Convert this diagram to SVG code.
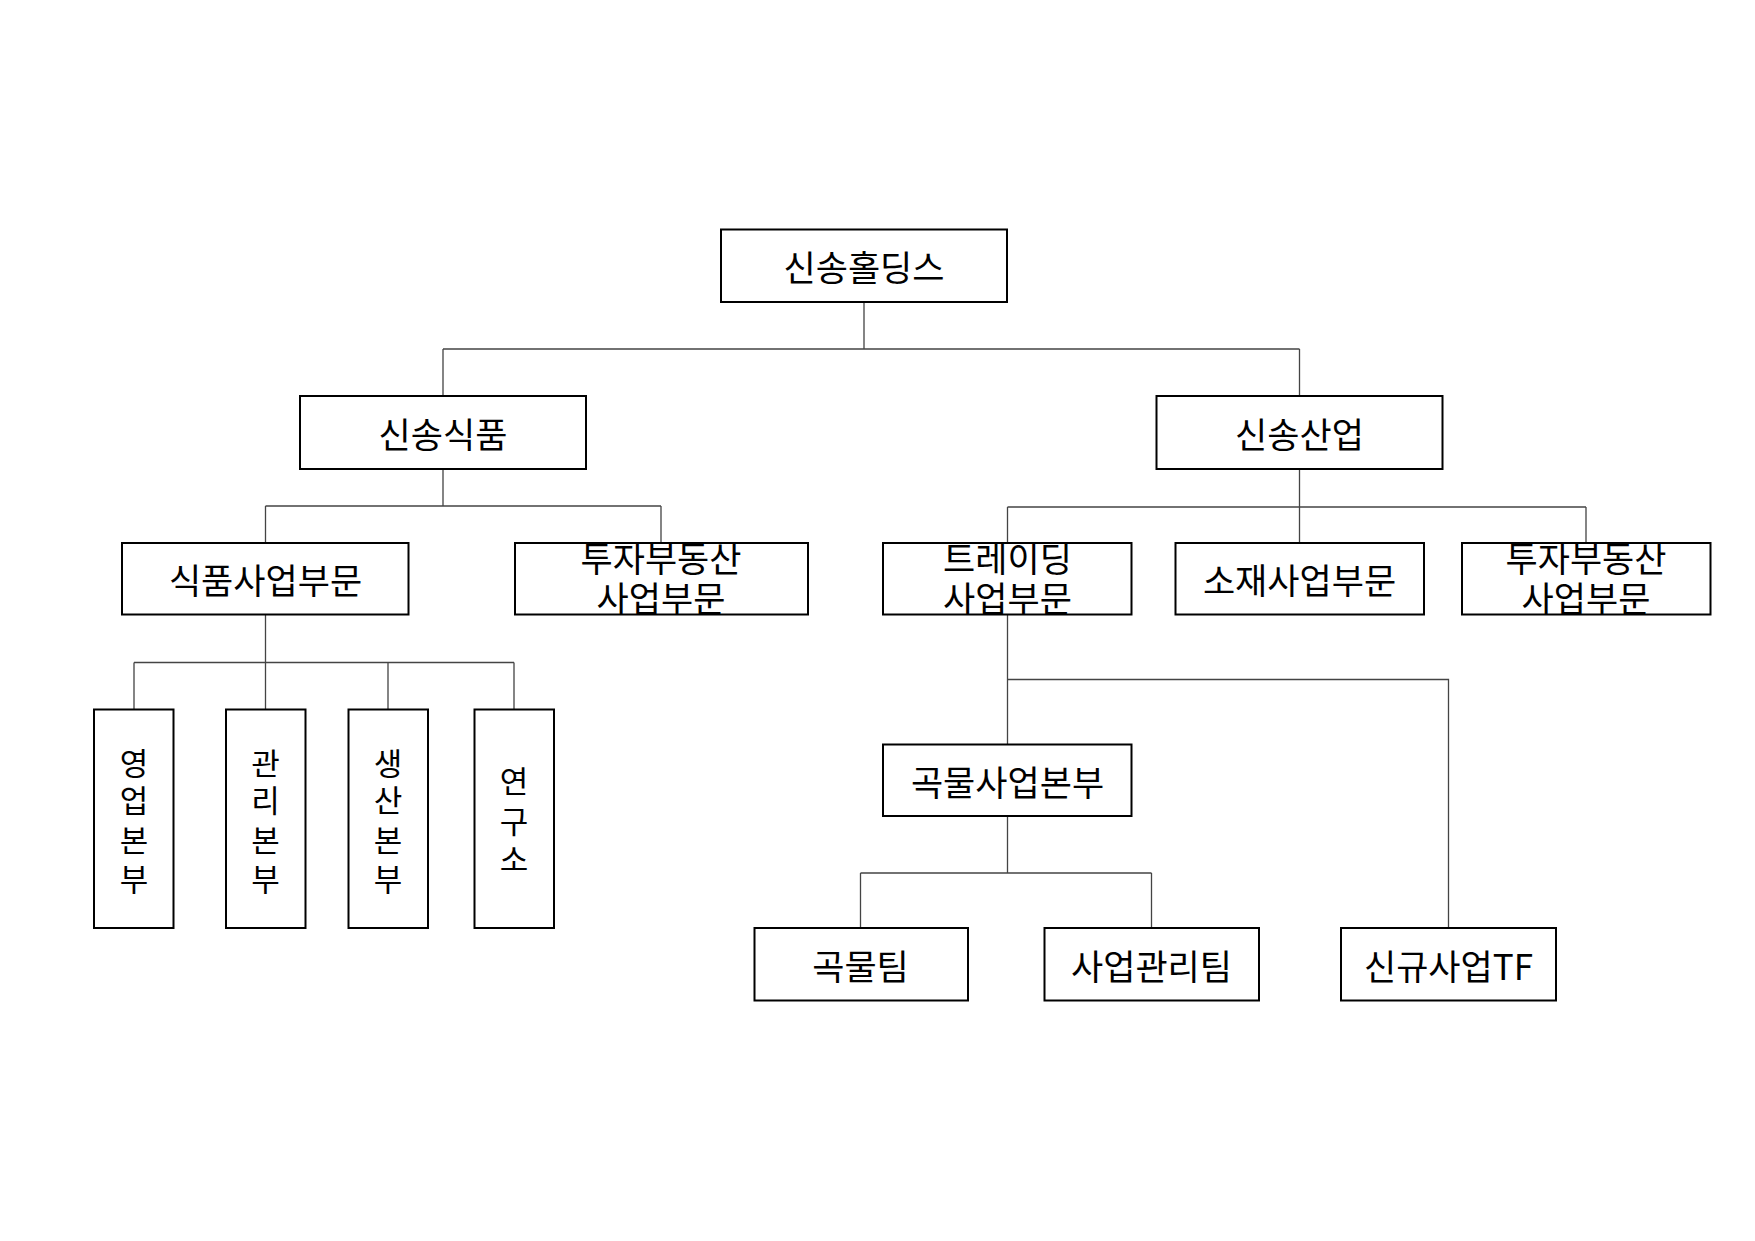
<svg xmlns="http://www.w3.org/2000/svg" width="1755" height="1241" viewBox="0 0 1755 1241">
<style>
.box{fill:#fff;stroke:#000;stroke-width:2}
.t{font-family:"Noto Sans CJK KR","Noto Sans",sans-serif;font-size:35px;fill:#000;text-anchor:middle;dominant-baseline:central}
.v{font-size:31px}
.c{fill:none;stroke:#444;stroke-width:1.3}
</style>
<rect width="1755" height="1241" fill="#fff"/>
<g id="connectors">
<path class="c" d="M864 302V349M443 349H1299.5M443 349V396M1299.5 349V396"/>
<path class="c" d="M443 469V506M265.5 506H661M265.5 506V543M661 506V543"/>
<path class="c" d="M1299.5 469V543M1007.5 507H1586M1007.5 507V543M1586 507V543"/>
<path class="c" d="M265.5 614.5V709.5M134 662.5H514M134 662.5V709.5M388 662.5V709.5M514 662.5V709.5"/>
<path class="c" d="M1007.5 614.5V744.5M1007.5 679.5H1448.5V928"/>
<path class="c" d="M1007.5 816V873M860.5 873H1151.5M860.5 873V928M1151.5 873V928"/>
</g>
<g id="n-holdings"><rect class="box" x="721" y="229.5" width="286" height="72.5"/><text class="t" x="864" y="265">신송홀딩스</text></g>
<g id="n-food"><rect class="box" x="300" y="396" width="286" height="73"/><text class="t" x="443" y="432">신송식품</text></g>
<g id="n-industry"><rect class="box" x="1156.5" y="396" width="286" height="73"/><text class="t" x="1299.5" y="432">신송산업</text></g>
<g id="n-foodbiz"><rect class="box" x="122" y="543" width="286.5" height="71.5"/><text class="t" x="265.5" y="578">식품사업부문</text></g>
<g id="n-invest1"><rect class="box" x="515" y="543" width="293" height="71.5"/><text class="t"><tspan x="661" y="556">투자부동산</tspan><tspan x="661" y="596">사업부문</tspan></text></g>
<g id="n-trading"><rect class="box" x="883" y="543" width="248.5" height="71.5"/><text class="t"><tspan x="1007.5" y="556">트레이딩</tspan><tspan x="1007.5" y="596">사업부문</tspan></text></g>
<g id="n-material"><rect class="box" x="1175.5" y="543" width="248.5" height="71.5"/><text class="t" x="1299.5" y="578">소재사업부문</text></g>
<g id="n-invest2"><rect class="box" x="1462" y="543" width="248.5" height="71.5"/><text class="t"><tspan x="1586" y="556">투자부동산</tspan><tspan x="1586" y="596">사업부문</tspan></text></g>
<g id="n-sales"><rect class="box" x="94" y="709.5" width="79.5" height="218.5"/><text class="t v"><tspan x="134" y="761">영</tspan><tspan x="134" y="798">업</tspan><tspan x="134" y="838">본</tspan><tspan x="134" y="877">부</tspan></text></g>
<g id="n-admin"><rect class="box" x="226" y="709.5" width="79.5" height="218.5"/><text class="t v"><tspan x="265.5" y="761">관</tspan><tspan x="265.5" y="798">리</tspan><tspan x="265.5" y="838">본</tspan><tspan x="265.5" y="877">부</tspan></text></g>
<g id="n-prod"><rect class="box" x="348.5" y="709.5" width="79.5" height="218.5"/><text class="t v"><tspan x="388" y="761">생</tspan><tspan x="388" y="798">산</tspan><tspan x="388" y="838">본</tspan><tspan x="388" y="877">부</tspan></text></g>
<g id="n-lab"><rect class="box" x="474.5" y="709.5" width="79.5" height="218.5"/><text class="t v"><tspan x="514" y="779">연</tspan><tspan x="514" y="819">구</tspan><tspan x="514" y="857">소</tspan></text></g>
<g id="n-grainhq"><rect class="box" x="883" y="744.5" width="248.5" height="71.5"/><text class="t" x="1007.5" y="780">곡물사업본부</text></g>
<g id="n-grainteam"><rect class="box" x="754.5" y="928" width="213.5" height="72.5"/><text class="t" x="860.5" y="964">곡물팀</text></g>
<g id="n-bizmgmt"><rect class="box" x="1044.5" y="928" width="214.5" height="72.5"/><text class="t" x="1151.5" y="964">사업관리팀</text></g>
<g id="n-newtf"><rect class="box" x="1341" y="928" width="215" height="72.5"/><text class="t" x="1448.5" y="964">신규사업TF</text></g>
</svg>
